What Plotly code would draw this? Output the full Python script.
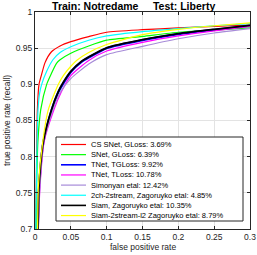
import plotly.graph_objects as go

names = ["CS SNet, GLoss: 3.69%", "SNet, GLoss: 6.39%", "TNet, TGLoss: 9.92%",
         "TNet, TLoss: 10.78%", "Simonyan etal: 12.42%", "2ch-2stream, Zagoruyko etal: 4.85%",
         "Siam, Zagoruyko etal: 10.35%", "Siam-2stream-l2 Zagoruyko etal: 8.79%"]
colors = ["#ff0000", "#00ff00", "#0000ff", "#ff00ff", "#a78bd8", "#00ffff", "#000000", "#ffff00"]
widths = [1.2, 1.2, 2.2, 1.2, 1.2, 1.2, 1.8, 1.2]

fpr_red = [0, 0.001, 0.002, 0.0033, 0.0056, 0.0093, 0.014, 0.023, 0.035, 0.05, 0.075, 0.1, 0.15, 0.2, 0.25, 0.3]
tpr_red = [0.6, 0.70, 0.78, 0.865, 0.90, 0.914, 0.930, 0.945, 0.953, 0.959, 0.966, 0.972, 0.9755, 0.978, 0.980, 0.982]

fpr_green = [0, 0.0015, 0.0023, 0.004, 0.008, 0.0163, 0.021, 0.030, 0.035, 0.05, 0.075, 0.1, 0.15, 0.2, 0.25, 0.3]
tpr_green = [0.6, 0.70, 0.76, 0.82, 0.865, 0.90, 0.911, 0.929, 0.934, 0.943, 0.953, 0.961, 0.9663, 0.972, 0.975, 0.978]

fpr_blue = [0, 0.004, 0.0058, 0.0117, 0.0235, 0.033, 0.040, 0.05, 0.065, 0.075, 0.1, 0.15, 0.2, 0.25, 0.3]
tpr_blue = [0.6, 0.70, 0.759, 0.82, 0.865, 0.89, 0.902, 0.917, 0.931, 0.937, 0.950, 0.9612, 0.9695, 0.9755, 0.981]

fpr_magenta = [0, 0.0045, 0.007, 0.0126, 0.0265, 0.037, 0.05, 0.075, 0.1, 0.15, 0.2, 0.25, 0.3]
tpr_magenta = [0.6, 0.70, 0.759, 0.82, 0.865, 0.89, 0.912, 0.933, 0.946, 0.958, 0.967, 0.974, 0.980]

fpr_purple = [0, 0.0042, 0.0068, 0.012, 0.025, 0.036, 0.05, 0.075, 0.1, 0.15, 0.2, 0.25, 0.3]
tpr_purple = [0.6, 0.70, 0.759, 0.82, 0.865, 0.89, 0.908, 0.928, 0.941, 0.9525, 0.963, 0.971, 0.977]

fpr_cyan = [0, 0.0012, 0.0025, 0.0042, 0.0065, 0.0093, 0.0163, 0.025, 0.035, 0.05, 0.075, 0.1, 0.15, 0.2, 0.25, 0.3]
tpr_cyan = [0.6, 0.70, 0.80, 0.865, 0.888, 0.90, 0.918, 0.934, 0.944, 0.952, 0.961, 0.967, 0.973, 0.977, 0.981, 0.984]

fpr_black = [0, 0.004, 0.0056, 0.0115, 0.023, 0.0325, 0.0395, 0.05, 0.065, 0.075, 0.1, 0.15, 0.2, 0.25, 0.3]
tpr_black = [0.6, 0.70, 0.759, 0.82, 0.865, 0.89, 0.903, 0.918, 0.932, 0.938, 0.9505, 0.9617, 0.970, 0.976, 0.9815]

fpr_yellow = [0, 0.0035, 0.0047, 0.0107, 0.0186, 0.0326, 0.0395, 0.05, 0.058, 0.075, 0.1, 0.15, 0.2, 0.25, 0.3]
tpr_yellow = [0.6, 0.70, 0.759, 0.82, 0.865, 0.90, 0.912, 0.925, 0.933, 0.944, 0.955, 0.9686, 0.976, 0.981, 0.985]

series_fpr = [fpr_red, fpr_green, fpr_blue, fpr_magenta, fpr_purple, fpr_cyan, fpr_black, fpr_yellow]
series_tpr = [tpr_red, tpr_green, tpr_blue, tpr_magenta, tpr_purple, tpr_cyan, tpr_black, tpr_yellow]

x_ticks = [0, 0.05, 0.1, 0.15, 0.2, 0.25, 0.3]
x_tick_labels = ["0", "0.05", "0.1", "0.15", "0.2", "0.25", "0.3"]
y_ticks = [0.7, 0.75, 0.8, 0.85, 0.9, 0.95, 1]
y_tick_labels = ["0.7", "0.75", "0.8", "0.85", "0.9", "0.95", "1"]

W, H = 257, 255
ML, MR, MT, MB = 35, 7, 12, 26
PW, PH = W - ML - MR, H - MT - MB


def px(xp):
    return (xp - ML) / PW


def py(yp):
    return 1 - (yp - MT) / PH


fig = go.Figure()
for n, c, w, xs, ys in zip(names, colors, widths, series_fpr, series_tpr):
    fig.add_trace(go.Scatter(x=xs, y=ys, mode="lines", name=n, showlegend=False,
                             line=dict(color=c, width=w, shape="spline", smoothing=0.6)))

# custom compact legend (MATLAB style)
shapes = [dict(type="rect", xref="paper", yref="paper", x0=px(56), x1=px(243), y0=py(137), y1=py(221),
               fillcolor="white", line=dict(color="#262626", width=1), layer="above")]
annotations = []
for i, (n, c, w) in enumerate(zip(names, colors, widths)):
    yy = 144.5 + i * 10.15
    shapes.append(dict(type="line", xref="paper", yref="paper", x0=px(61), x1=px(86),
                       y0=py(yy), y1=py(yy), line=dict(color=c, width=min(w, 1.6)), layer="above"))
    annotations.append(dict(xref="paper", yref="paper", x=px(88.5), y=py(yy), text=n, showarrow=False,
                            xanchor="left", yanchor="middle",
                            font=dict(family="Liberation Sans, Arial", size=7.5, color="#000000")))

# axis titles
annotations.append(dict(xref="paper", yref="paper", x=px(142.5), y=py(247), text="false positive rate",
                        showarrow=False, xanchor="center", yanchor="middle",
                        font=dict(family="Liberation Sans, Arial", size=8.5, color="#262626")))
annotations.append(dict(xref="paper", yref="paper", x=px(6.5), y=py(120.5), text="true positive rate (recall)",
                        showarrow=False, xanchor="center", yanchor="middle", textangle=-90,
                        font=dict(family="Liberation Sans, Arial", size=8.5, color="#262626")))

axis_common = dict(showgrid=True, gridcolor="#e3e3e3", gridwidth=1, showline=True,
                   linecolor="#262626", linewidth=1, mirror="ticks", ticks="inside",
                   ticklen=3, tickcolor="#262626", zeroline=False, automargin=False,
                   tickfont=dict(family="Liberation Sans, Arial", size=8.5, color="#262626"))

fig.update_layout(
    width=W, height=H,
    margin=dict(l=ML, r=MR, t=MT, b=MB, autoexpand=False),
    paper_bgcolor="white", plot_bgcolor="white",
    font=dict(family="Liberation Sans, Arial", color="#262626"),
    title=dict(text="<b>Train: Notredame     Test: Liberty</b>", x=0.52, xanchor="center",
               y=0.975, yanchor="middle", font=dict(size=10.5, color="#000000")),
    xaxis=dict(range=[0, 0.3], tickvals=x_ticks, ticktext=x_tick_labels, **axis_common),
    yaxis=dict(range=[0.7, 1], tickvals=y_ticks, ticktext=y_tick_labels, **axis_common),
    shapes=shapes,
    annotations=annotations,
    showlegend=False,
    hovermode=False,
)

fig.write_html("out.html", config={"displayModeBar": False, "staticPlot": True},
               post_script="document.body.style.margin='0';document.body.style.overflow='hidden';")
